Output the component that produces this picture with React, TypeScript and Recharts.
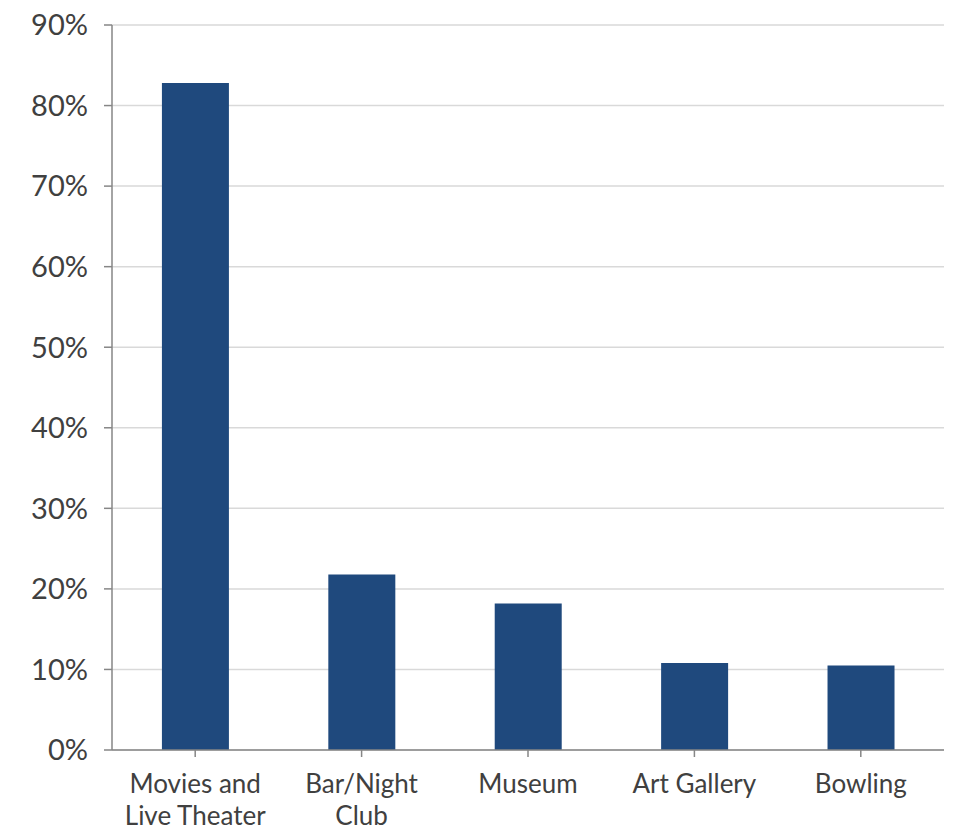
import { BarChart, Bar, XAxis, YAxis, CartesianGrid } from 'recharts';

const categories = ['Movies and\nLive Theater', 'Bar/Night\nClub', 'Museum', 'Art Gallery', 'Bowling'];
const shares = [82.8, 21.8, 18.2, 10.8, 10.5];
const yTicks = [0, 10, 20, 30, 40, 50, 60, 70, 80, 90];

const data = categories.map((name, i) => ({ name, value: shares[i] }));

const FONT = 'Lato, "Open Sans", sans-serif';

function CategoryTick({ x, y, payload }: any) {
  const lines = String(payload.value).split('\n');
  return (
    <text x={x} y={y} textAnchor="middle" fill="#404040" fontSize={26} fontFamily={FONT}>
      {lines.map((line, i) => (
        <tspan key={i} x={x} dy={i === 0 ? 34 : 32}>{line}</tspan>
      ))}
    </text>
  );
}

export default function App() {
  return (
    <div style={{ background: '#fff' }}>
      <BarChart
        width={946}
        height={822}
        data={data}
        margin={{ top: 17, right: 10, left: 0, bottom: 0 }}
        barCategoryGap="30%"
        style={{ overflow: 'visible' }}
      >
        <CartesianGrid vertical={false} stroke="#d9d9d9" strokeWidth={1.5} />
        <XAxis
          dataKey="name"
          interval={0}
          axisLine={{ stroke: '#868686', strokeWidth: 1.5 }}
          tickLine={{ stroke: '#868686', strokeWidth: 1.5 }}
          tickSize={7}
          tick={<CategoryTick />}
          height={80}
        />
        <YAxis
          width={104}
          domain={[0, 90]}
          ticks={yTicks}
          interval={0}
          tickFormatter={(v: number) => `${v}%`}
          axisLine={{ stroke: '#868686', strokeWidth: 1.5 }}
          tickLine={{ stroke: '#868686', strokeWidth: 1.5 }}
          tickSize={8}
          tickMargin={16}
          tick={{ fill: '#404040', fontSize: 29, fontFamily: FONT }}
        />
        <Bar dataKey="value" fill="#1f497d" isAnimationActive={false} />
      </BarChart>
    </div>
  );
}
